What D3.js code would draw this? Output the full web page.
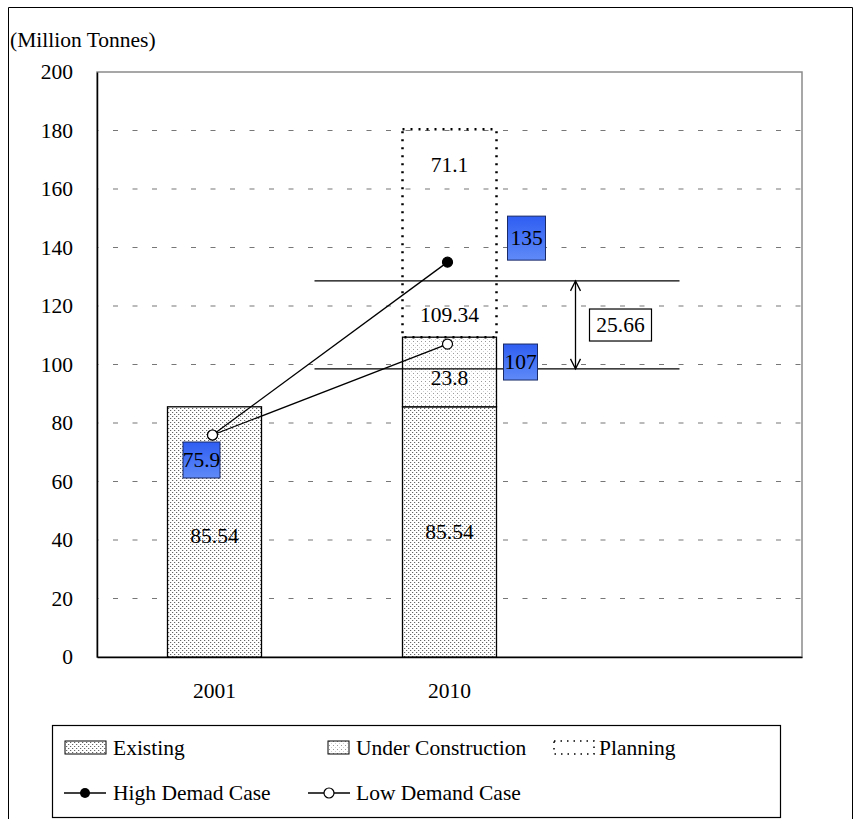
<!DOCTYPE html>
<html>
<head>
<meta charset="utf-8">
<script src="https://cdn.jsdelivr.net/npm/d3@7"></script>
<style>
  body { margin: 0; background: #fff; }
  svg text { font-family: "Liberation Serif", "Times New Roman", serif; fill: #000; }
</style>
</head>
<body>
<div id="chart"></div>
<script>
// data
var categories = ["2001", "2010", ""];
var existing = [85.54, 85.54];
var underConstruction = [0, 23.8];
var planning = [0, 71.1];
var highDemand = [75.9, 135];
var lowDemand = [75.9, 107];
var yTicks = [0, 20, 40, 60, 80, 100, 120, 140, 160, 180, 200];
var gapLevels = [128.6, 98.5];
var gapValue = 25.66;

var W = 858, H = 819;
var plot = {left: 97, top: 72, right: 802, bottom: 657};
var fs = "21.5px";

var svg = d3.select("#chart").append("svg")
    .attr("width", W).attr("height", H);

var defs = svg.append("defs");
// dot pattern for existing
var p1 = defs.append("pattern").attr("id", "patExisting")
    .attr("width", 4).attr("height", 4).attr("patternUnits", "userSpaceOnUse");
p1.append("rect").attr("width", 4).attr("height", 4).attr("fill", "#fff");
p1.append("rect").attr("x", 0).attr("y", 0).attr("width", 1).attr("height", 1).attr("fill", "#666");
p1.append("rect").attr("x", 2).attr("y", 2).attr("width", 1).attr("height", 1).attr("fill", "#666");
p1.append("rect").attr("x", 1).attr("y", 0).attr("width", 1).attr("height", 1).attr("fill", "#ddd");
p1.append("rect").attr("x", 3).attr("y", 2).attr("width", 1).attr("height", 1).attr("fill", "#ddd");
// sparse dot pattern for under construction
var p2 = defs.append("pattern").attr("id", "patUnder")
    .attr("width", 4).attr("height", 4).attr("patternUnits", "userSpaceOnUse");
p2.append("rect").attr("width", 4).attr("height", 4).attr("fill", "#fff");
p2.append("rect").attr("x", 1).attr("y", 1).attr("width", 1).attr("height", 1).attr("fill", "#999");
p2.append("rect").attr("x", 3).attr("y", 3).attr("width", 1).attr("height", 1).attr("fill", "#d0d0d0");
// blue label gradient
var g = defs.append("linearGradient").attr("id", "blueGrad")
    .attr("x1", 0).attr("y1", 0).attr("x2", 0).attr("y2", 1);
g.append("stop").attr("offset", "0%").attr("stop-color", "#2f5ef2");
g.append("stop").attr("offset", "100%").attr("stop-color", "#5f8af8");

// outer frame
svg.append("path")
    .attr("d", "M8.5," + H + "V7.5H852.5V" + H)
    .attr("fill", "none").attr("stroke", "#000").attr("stroke-width", 1);

var x = d3.scaleBand().domain(categories)
    .range([plot.left, plot.right]).paddingInner(0.6).paddingOuter(0.3);
var y = d3.scaleLinear().domain([0, 200]).range([plot.bottom, plot.top]);
var bw = x.bandwidth();
function cx(i) { return x(categories[i]) + bw / 2; }

// plot border (grey)
svg.append("rect")
    .attr("x", plot.left).attr("y", plot.top)
    .attr("width", plot.right - plot.left).attr("height", plot.bottom - plot.top)
    .attr("fill", "none").attr("stroke", "#8a8a8a").attr("stroke-width", 1.5);

// gridlines
svg.append("g").selectAll("line").data(yTicks.slice(1, -1)).join("line")
    .attr("x1", plot.left).attr("x2", plot.right)
    .attr("y1", d => y(d)).attr("y2", d => y(d))
    .attr("stroke", "#777").attr("stroke-width", 1.2)
    .attr("stroke-dasharray", "5,14.5")
    .attr("stroke-dashoffset", -16);

// y axis
var yAxis = svg.append("g").attr("transform", "translate(" + plot.left + ",0)")
    .call(d3.axisLeft(y).tickValues(yTicks).tickSize(0).tickPadding(24));
yAxis.select(".domain").attr("stroke", "#000").attr("stroke-width", 1.5);
yAxis.selectAll("text").style("font-size", fs)
    .style("font-family", "Liberation Serif");

// x axis
var xAxis = svg.append("g").attr("transform", "translate(0," + plot.bottom + ")")
    .call(d3.axisBottom(x).tickSize(0).tickPadding(26));
xAxis.select(".domain").attr("stroke", "#000").attr("stroke-width", 1.5);
xAxis.selectAll("text").style("font-size", fs)
    .style("font-family", "Liberation Serif");

svg.append("text").attr("x", 10).attr("y", 47)
    .style("font-size", fs).text("(Million Tonnes)");

// bars
var bars = svg.append("g");
existing.forEach(function(v, i) {
  bars.append("rect")
      .attr("x", x(categories[i])).attr("y", y(v))
      .attr("width", bw).attr("height", y(0) - y(v))
      .attr("fill", "url(#patExisting)").attr("stroke", "#000").attr("stroke-width", 1.3);
  if (underConstruction[i] > 0) {
    bars.append("rect")
        .attr("x", x(categories[i])).attr("y", y(v + underConstruction[i]))
        .attr("width", bw).attr("height", y(v) - y(v + underConstruction[i]))
        .attr("fill", "url(#patUnder)").attr("stroke", "#000").attr("stroke-width", 1.3);
  }
  if (planning[i] > 0) {
    var base = v + underConstruction[i];
    bars.append("rect")
        .attr("x", x(categories[i])).attr("y", y(base + planning[i]))
        .attr("width", bw).attr("height", y(base) - y(base + planning[i]))
        .attr("fill", "none").attr("stroke", "#000").attr("stroke-width", 2.5)
        .attr("stroke-dasharray", "2,6");
  }
});

// bar labels
var lab = svg.append("g").style("font-size", fs).attr("text-anchor", "middle");
existing.forEach(function(v, i) {
  lab.append("text").attr("x", cx(i)).attr("y", y(v / 2) + 11 - i * 4).text(v);
  if (underConstruction[i] > 0) {
    lab.append("text").attr("x", cx(i))
        .attr("y", y(v + underConstruction[i] / 2) + 13).text(underConstruction[i]);
    var tot = +(v + underConstruction[i]).toFixed(2);
    lab.append("text").attr("x", cx(i)).attr("y", y(tot) - 15).text(tot);
  }
  if (planning[i] > 0) {
    var top = v + underConstruction[i] + planning[i];
    lab.append("text").attr("x", cx(i)).attr("y", y(top) + 43).text(planning[i]);
  }
});

// gap lines and arrow
var gl = svg.append("g");
gapLevels.forEach(function(v) {
  gl.append("line")
      .attr("x1", cx(1) - 135).attr("x2", cx(1) + 230)
      .attr("y1", y(v)).attr("y2", y(v))
      .attr("stroke", "#000").attr("stroke-width", 1.3);
});
var ax = cx(1) + 126, ya = y(gapLevels[0]), yb = y(gapLevels[1]);
gl.append("line").attr("x1", ax).attr("x2", ax).attr("y1", ya).attr("y2", yb)
    .attr("stroke", "#000").attr("stroke-width", 1.3);
gl.append("path").attr("d", "M" + (ax - 5) + "," + (ya + 10) + "L" + ax + "," + ya + "L" + (ax + 5) + "," + (ya + 10))
    .attr("fill", "none").attr("stroke", "#000").attr("stroke-width", 1.3);
gl.append("path").attr("d", "M" + (ax - 5) + "," + (yb - 10) + "L" + ax + "," + yb + "L" + (ax + 5) + "," + (yb - 10))
    .attr("fill", "none").attr("stroke", "#000").attr("stroke-width", 1.3);
var gy = y(113.5);
gl.append("rect").attr("x", cx(1) + 140).attr("y", gy - 16).attr("width", 62).attr("height", 32)
    .attr("fill", "#fff").attr("stroke", "#000").attr("stroke-width", 1.2);
gl.append("text").attr("x", cx(1) + 171).attr("y", gy + 7).attr("text-anchor", "middle")
    .style("font-size", fs).text(gapValue);

// demand lines
var line = d3.line().x((d, i) => cx(i) - 2).y(d => y(d));
svg.append("path").datum(highDemand).attr("d", line)
    .attr("fill", "none").attr("stroke", "#000").attr("stroke-width", 1.3);
svg.append("path").datum(lowDemand).attr("d", line)
    .attr("fill", "none").attr("stroke", "#000").attr("stroke-width", 1.3);
svg.append("g").selectAll("circle").data(highDemand).join("circle")
    .attr("cx", (d, i) => cx(i) - 2).attr("cy", d => y(d)).attr("r", 5)
    .attr("fill", (d, i) => i == 0 ? "#fff" : "#000").attr("stroke", "#000").attr("stroke-width", 1.2);
svg.append("g").selectAll("circle").data(lowDemand).join("circle")
    .attr("cx", (d, i) => cx(i) - 2).attr("cy", d => y(d)).attr("r", 5)
    .attr("fill", "#fff").attr("stroke", "#000").attr("stroke-width", 1.2);

// blue value boxes
var boxes = [
  {v: highDemand[0], i: 0, dx: -11, dy: 25, w: 37, h: 36},
  {v: highDemand[1], i: 1, dx: 79, dy: -24, w: 38, h: 44},
  {v: lowDemand[1], i: 1, dx: 73, dy: 18, w: 34, h: 36}
];
var bg = svg.append("g");
boxes.forEach(function(b) {
  var bx = cx(b.i) - 2 + b.dx, by = y(b.v) + b.dy;
  bg.append("rect").attr("x", bx - b.w / 2).attr("y", by - b.h / 2)
      .attr("width", b.w).attr("height", b.h)
      .attr("fill", "url(#blueGrad)").attr("stroke", "#1a2a66").attr("stroke-width", 1);
  bg.append("text").attr("x", bx).attr("y", by + 7).attr("text-anchor", "middle")
      .style("font-size", fs).text(b.v);
});

// legend
var leg = svg.append("g");
leg.append("rect").attr("x", 52.5).attr("y", 725.5).attr("width", 728).attr("height", 92)
    .attr("fill", "#fff").attr("stroke", "#000").attr("stroke-width", 1.2);
leg.append("rect").attr("x", 65).attr("y", 741).attr("width", 41).attr("height", 13)
    .attr("fill", "url(#patExisting)").attr("stroke", "#000");
leg.append("text").attr("x", 113).attr("y", 755).style("font-size", fs).text("Existing");
leg.append("rect").attr("x", 328).attr("y", 741).attr("width", 21).attr("height", 13)
    .attr("fill", "url(#patUnder)").attr("stroke", "#000");
leg.append("text").attr("x", 356).attr("y", 755).style("font-size", fs).text("Under Construction");
leg.append("rect").attr("x", 554).attr("y", 741).attr("width", 40).attr("height", 13)
    .attr("fill", "none").attr("stroke", "#000").attr("stroke-width", 1.5).attr("stroke-dasharray", "1.5,5");
leg.append("text").attr("x", 599).attr("y", 755).style("font-size", fs).text("Planning");
leg.append("line").attr("x1", 64).attr("x2", 106).attr("y1", 793).attr("y2", 793).attr("stroke", "#000").attr("stroke-width", 1.3);
leg.append("circle").attr("cx", 85).attr("cy", 793).attr("r", 5).attr("fill", "#000");
leg.append("text").attr("x", 113).attr("y", 800).style("font-size", fs).text("High Demad Case");
leg.append("line").attr("x1", 308).attr("x2", 350).attr("y1", 793).attr("y2", 793).attr("stroke", "#000").attr("stroke-width", 1.3);
leg.append("circle").attr("cx", 329).attr("cy", 793).attr("r", 5).attr("fill", "#fff").attr("stroke", "#000").attr("stroke-width", 1.2);
leg.append("text").attr("x", 356).attr("y", 800).style("font-size", fs).text("Low Demand Case");
</script>
</body>
</html>
